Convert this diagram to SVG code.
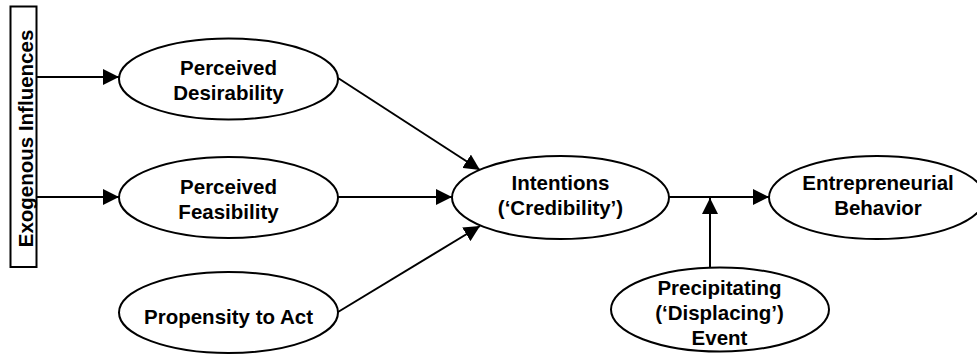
<svg xmlns="http://www.w3.org/2000/svg" width="977" height="354" viewBox="0 0 977 354">
<style>
.n{fill:#fff;stroke:#000;stroke-width:2}
.t{font-family:"Liberation Sans",Arial,sans-serif;font-weight:bold;font-size:20.5px;fill:#000;text-anchor:middle}
.c{stroke:#000;stroke-width:2;fill:none}
</style>
<defs>
<marker id="ah" markerUnits="userSpaceOnUse" markerWidth="17" markerHeight="16" refX="16" refY="8" orient="auto" viewBox="0 0 17 16">
<path d="M0,0 L16,8 L0,16 z" fill="#000"/>
</marker>
</defs>
<rect width="977" height="354" fill="#fff"/>
<g id="connectors">
<line class="c" x1="37" y1="77" x2="119" y2="77" marker-end="url(#ah)"/>
<line class="c" x1="37" y1="197" x2="119" y2="197" marker-end="url(#ah)"/>
<line class="c" x1="338" y1="78" x2="480" y2="170" marker-end="url(#ah)"/>
<line class="c" x1="338" y1="197" x2="452" y2="197" marker-end="url(#ah)"/>
<line class="c" x1="338" y1="312" x2="480" y2="226" marker-end="url(#ah)"/>
<line class="c" x1="669" y1="197" x2="769" y2="197" marker-end="url(#ah)"/>
<line class="c" x1="710" y1="268" x2="710" y2="198" marker-end="url(#ah)"/>
</g>
<g id="exogenous">
<rect class="n" x="10.5" y="6.5" width="26" height="260.5"/>
<text class="t" transform="translate(33,138.5) rotate(-90)">Exogenous Influences</text>
</g>
<g id="desirability">
<ellipse class="n" cx="228.5" cy="79" rx="109.5" ry="40.5"/>
<text class="t" x="228.5" y="75">Perceived</text>
<text class="t" x="228.5" y="100">Desirability</text>
</g>
<g id="feasibility">
<ellipse class="n" cx="228.5" cy="197.5" rx="109.5" ry="40.5"/>
<text class="t" x="228.5" y="194">Perceived</text>
<text class="t" x="228.5" y="218.5">Feasibility</text>
</g>
<g id="propensity">
<ellipse class="n" cx="228.5" cy="312.5" rx="109.5" ry="40.5"/>
<text class="t" x="228.5" y="323.5">Propensity to Act</text>
</g>
<g id="intentions">
<ellipse class="n" cx="560.5" cy="197.5" rx="108.5" ry="41.5"/>
<text class="t" x="560.5" y="190">Intentions</text>
<text class="t" x="560.5" y="215">(‘Credibility’)</text>
</g>
<g id="behavior">
<ellipse class="n" cx="877" cy="197.5" rx="108" ry="41.5"/>
<text class="t" x="878" y="190">Entrepreneurial</text>
<text class="t" x="878" y="215">Behavior</text>
</g>
<g id="precipitating">
<ellipse class="n" cx="720" cy="309.5" rx="109" ry="42"/>
<text class="t" x="719.5" y="295">Precipitating</text>
<text class="t" x="719.5" y="320">(‘Displacing’)</text>
<text class="t" x="719.5" y="344.5">Event</text>
</g>
</svg>
